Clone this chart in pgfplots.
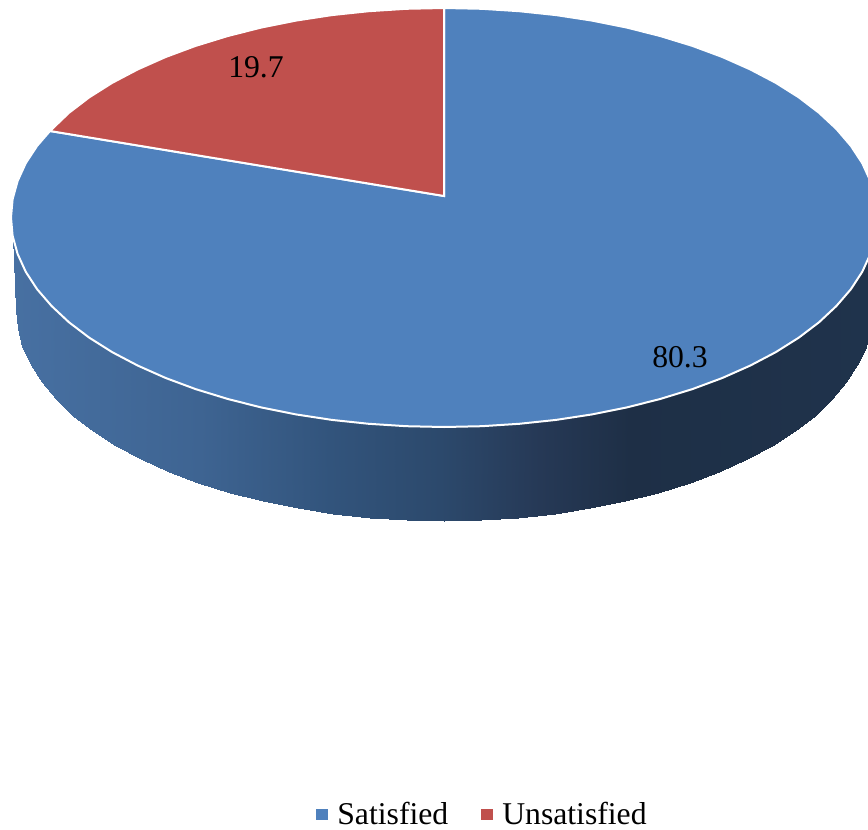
\documentclass[border=0pt]{standalone}
\usepackage{fontspec}
\setmainfont{Liberation Serif}
\usepackage{pgfplots}
\pgfplotsset{compat=1.18}
\definecolor{satisfied}{RGB}{79,129,189}
\definecolor{unsatisfied}{RGB}{192,80,77}

% Side wall of the disc: pairs of points (upper rim, lower rim), left to right
\pgfplotstableread{
x y
12.6 235.8
16.0 310.0
13.7 241.0
17.6 328.4
17.6 253.9
22.5 346.6
25.7 271.7
30.6 364.6
37.1 289.2
41.8 382.2
51.6 306.0
56.1 399.2
69.0 322.3
73.3 415.5
89.3 337.7
93.4 431.0
112.3 352.2
116.1 445.6
137.8 365.6
141.4 459.2
165.7 378.0
168.9 471.6
195.6 389.1
198.5 482.8
227.5 398.9
230.0 492.7
261.0 407.4
263.1 501.2
295.9 414.4
297.6 508.3
331.9 419.9
333.2 513.8
368.8 423.8
369.7 517.8
406.3 426.2
406.7 520.2
444.0 427.0
444.0 521.0
481.7 426.2
481.3 520.2
519.2 423.8
518.3 517.8
556.1 419.9
554.8 513.8
592.1 414.4
590.4 508.3
627.0 407.4
625.0 501.2
660.5 398.9
658.0 492.7
692.4 389.1
689.5 482.8
722.3 378.0
719.1 471.6
750.2 365.6
746.6 459.2
775.7 352.2
771.9 445.6
798.7 337.7
794.6 431.0
819.0 322.3
814.7 415.5
836.4 306.0
831.9 399.2
850.9 289.2
846.2 382.2
862.3 271.7
857.4 364.6
870.4 253.9
865.5 346.6
875.4 235.8
870.4 328.4
877.0 217.5
872.0 310.0
}\rimtable

\begin{document}
\begin{tikzpicture}
\begin{axis}[
  name=pie,
  scale only axis, width=868pt, height=830pt,
  xmin=0, xmax=868, ymin=0, ymax=830, y dir=reverse,
  hide axis,
  colormap={rim}{[10pt]
    rgb255(0pt)=(72,113,163);
    rgb255(200pt)=(62,100,146);
    rgb255(330pt)=(50,84,124);
    rgb255(440pt)=(44,73,108);
    rgb255(540pt)=(38,57,86);
    rgb255(630pt)=(30,47,70);
    rgb255(870pt)=(31,51,76)},
  point meta min=0, point meta max=870,
  legend columns=2,
  legend image code/.code={\fill[#1] (0pt,-5.3pt) rectangle (10.6pt,5.3pt);},
  legend style={at={(axis cs:482.5,814)}, anchor=center, draw=none, fill=none,
    inner sep=0pt, outer sep=0pt,
    font=\fontsize{31.7}{36}\selectfont,
    /tikz/every odd column/.append style={column sep=8pt},
    /tikz/every even column/.append style={column sep=31pt}},
  legend cell align=left,
]
% side wall
\addplot[surf, shader=interp, forget plot, mesh/rows=2, mesh/ordering=y varies,
  point meta=x] table[x=x, y=y] {\rimtable};

% Satisfied, 80.3
\addplot[fill=satisfied, draw=white, line width=2pt, forget plot] coordinates {
(444,196) (444,8) (481.7,8.8) (519.2,11.2) (556.1,15.1) (592.1,20.6) (627.0,27.6)
(660.5,36.1) (692.4,45.9) (722.3,57.0) (750.2,69.4) (775.7,82.8) (798.7,97.3)
(819.0,112.8) (836.4,129.0) (850.9,145.9) (862.3,163.3) (870.4,181.1) (875.4,199.2)
(877,217.5) (875.4,235.8) (870.4,253.9) (862.3,271.7) (850.9,289.2) (836.4,306.0)
(819.0,322.3) (798.7,337.7) (775.7,352.2) (750.2,365.6) (722.3,378.0) (692.4,389.1)
(660.5,398.9) (627.0,407.4) (592.1,414.4) (556.1,419.9) (519.2,423.8) (481.7,426.2)
(444,427) (406.3,426.2) (368.8,423.8) (331.9,419.9) (295.9,414.4) (261.0,407.4)
(227.5,398.9) (195.6,389.1) (165.7,378.0) (137.8,365.6) (112.3,352.2) (89.3,337.7)
(69.0,322.3) (51.6,306.0) (37.1,289.2) (25.7,271.7) (17.6,253.9) (12.6,235.8)
(11,217.5) (12.6,199.2) (17.6,181.1) (25.7,163.3) (37.1,145.9) (50,131)
} -- cycle;

% Unsatisfied, 19.7
\addplot[fill=unsatisfied, draw=white, line width=2pt, forget plot] coordinates {
(444,196) (50,131) (69.0,112.8) (89.3,97.3) (112.3,82.8) (137.8,69.4) (165.7,57.0)
(195.6,45.9) (227.5,36.1) (261.0,27.6) (295.9,20.6) (331.9,15.1) (368.8,11.2)
(406.3,8.8) (444,8)
} -- cycle;

\node[font=\fontsize{31.7}{36}\selectfont] at (axis cs:256,67) {19.7};
\node[font=\fontsize{31.7}{36}\selectfont] at (axis cs:680,357) {80.3};

\addlegendimage{color=satisfied}
\addlegendentry{Satisfied}
\addlegendimage{color=unsatisfied}
\addlegendentry{Unsatisfied}
\end{axis}
% page frame, the full extent of the axis
\path (pie.south west) rectangle (pie.north east);
\end{tikzpicture}
\end{document}
